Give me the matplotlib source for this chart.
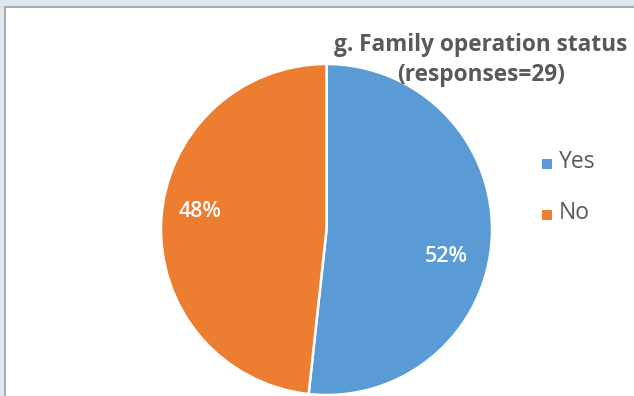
import matplotlib
matplotlib.use("Agg")
import matplotlib.pyplot as plt
from matplotlib.patches import Rectangle

# Survey answers
categories = ["Yes", "No"]
counts = [15, 14]
pct_labels = ["52%", "48%"]
title = "g. Family operation status\n(responses=29)"

colors = ["#5B9BD5", "#ED7D31"]
text_gray = "#595959"

W, H = 634, 396
fig = plt.figure(figsize=(W / 100, H / 100), dpi=100, facecolor="#DFE8EC")
plt.rcParams["font.family"] = ["Open Sans", "DejaVu Sans"]

# White chart area with a gray frame on the top and left
frame = fig.add_axes([0, 0, 1, 1], facecolor="none")
frame.set_xlim(0, W)
frame.set_ylim(H, 0)
frame.axis("off")
frame.add_patch(Rectangle((4.5, 6.5), W + 10, H + 10, facecolor="white",
                          edgecolor="#A8ADB0", linewidth=1.5))

# Pie centred at (326.5, 229.5) px, radius ~165.5 px
cx, cy, r = 326.5, 229.5, 165.5
ax = fig.add_axes([(cx - r) / W, (H - cy - r) / H, 2 * r / W, 2 * r / H])
wedges, _ = ax.pie(counts, colors=colors, startangle=90, counterclock=False,
                   wedgeprops=dict(edgecolor="white", linewidth=1.8),
                   radius=1.0)
ax.set_xlim(-1, 1)
ax.set_ylim(-1, 1)
ax.set_aspect("equal")
ax.axis("off")

# Percentage labels inside the slices
label_pos = [(446, 256), (200, 211)]
for (lx, ly), txt in zip(label_pos, pct_labels):
    fig.text(lx / W, 1 - ly / H, txt, ha="center", va="center",
             color="white", fontsize=15.5, fontweight="semibold")

# Title
fig.text(481 / W, 1 - 60 / H, title, ha="center", va="center",
         color=text_gray, fontsize=16.3, fontweight="bold", linespacing=1.3)

# Legend
leg_y = [164, 214.5]
for y, c, name in zip(leg_y, colors, categories):
    frame.add_patch(Rectangle((541.5, y - 5), 10, 10, facecolor=c, edgecolor="none"))
    frame.text(559, y - 1.5, name, ha="left", va="center", color=text_gray, fontsize=16.5)

fig.savefig("out.png", dpi=100, facecolor=fig.get_facecolor())
